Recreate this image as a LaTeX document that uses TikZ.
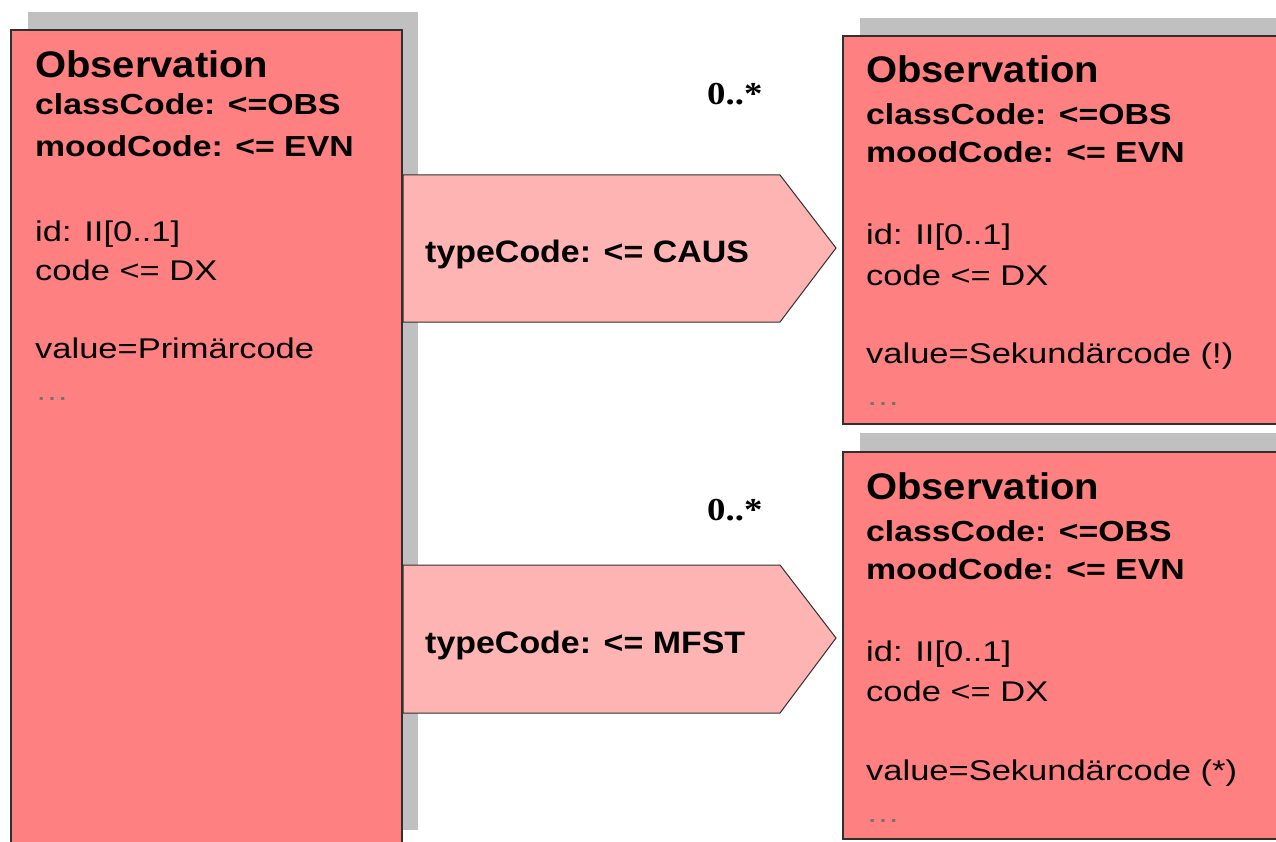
\documentclass[tikz,border=0pt]{standalone}
\usepackage{fontspec}
\setmainfont{Liberation Sans}
\newfontfamily\obsfont{Liberation Sans}[FakeStretch=1.08]
\newfontfamily\hdfont{Liberation Sans}[FakeStretch=1.165]
\newfontfamily\txfont{Liberation Sans}[FakeStretch=1.21]
\newfontfamily\tcfont{Liberation Sans}[FakeStretch=1.095]
\newfontfamily\mulfont{Liberation Serif}[FakeStretch=1.15]
\definecolor{boxred}{HTML}{FF8080}
\definecolor{arrowpink}{HTML}{FFB4B4}
\definecolor{shadowgray}{HTML}{C0C0C0}
\definecolor{edge}{HTML}{303030}
\tikzset{
  obsbox/.style={draw=edge, line width=1.4pt, fill=boxred, rectangle, outer sep=0pt, inner sep=0pt, anchor=north west},
  assoc/.style={draw=edge, line width=1pt, fill=arrowpink, line join=miter},
  title/.style={anchor=base west, inner sep=0pt, font=\obsfont\bfseries\fontsize{37}{40}\selectfont},
  head/.style={anchor=base west, inner sep=0pt, font=\hdfont\bfseries\fontsize{29}{32}\selectfont},
  attr/.style={anchor=base west, inner sep=0pt, font=\txfont\fontsize{28.5}{32}\selectfont},
  dots/.style={anchor=base west, inner sep=0pt, text=black!55, font=\txfont\fontsize{28}{32}\selectfont},
  tclabel/.style={anchor=base west, inner sep=0pt, font=\tcfont\bfseries\fontsize{31}{34}\selectfont},
  mult/.style={anchor=base west, inner sep=0pt, font=\mulfont\bfseries\fontsize{32}{34}\selectfont}
}
\begin{document}
\begin{tikzpicture}[x=1pt,y=-1pt]
\useasboundingbox (0,0) rectangle (1276,842);
\clip (0,0) rectangle (1276,842);
\fill[white] (0,0) rectangle (1276,842);
% shadows
\fill[shadowgray] (28,12) rectangle (418,830);
\fill[shadowgray] (860,18) rectangle (1300,410);
\fill[shadowgray] (860,433) rectangle (1300,821);
% boxes
\node[obsbox, minimum width=391pt, minimum height=830pt] (L) at (11,30) {};
\node[obsbox, minimum width=460pt, minimum height=388pt] (RT) at (843,36) {};
\node[obsbox, minimum width=460pt, minimum height=387pt] (RB) at (843,452) {};
% association arrows
\coordinate (a1s) at (403,175);
\coordinate (a1t) at (836,248);
\coordinate (a2s) at (403,565);
\coordinate (a2t) at (836,638);
\draw[assoc] (a1s) -- (780,175) -- (a1t) -- (780,322) -- (403,322) -- cycle;
\draw[assoc] (a2s) -- (780,565) -- (a2t) -- (780,713) -- (403,713) -- cycle;
\draw[draw=edge, line width=1.4pt] (402,175) -- (402,322) (402,565) -- (402,713);
\node[tclabel] (t1) at (425,262) {typeCode: <= CAUS};
\node[tclabel] (t2) at (425,653) {typeCode: <= MFST};
\node[mult] (m1) at (707,105) {0..*};
\node[mult] (m2) at (707,520) {0..*};
% left box text
\node[title] (L1) at (35,78) {Observation};
\node[head] (L2) at (35,115) {classCode: <=OBS};
\node[head] (L3) at (35,157) {moodCode: <= EVN};
\node[attr] (L4) at (35,242) {id: II[0..1]};
\node[attr] (L5) at (35,280) {code <= DX};
\node[attr] (L6) at (35,358) {value=Primärcode};
\node[dots] (L7) at (35,400) {…};
% right top text
\node[title] (R1) at (866,83) {Observation};
\node[head] (R2) at (866,125) {classCode: <=OBS};
\node[head] (R3) at (866,163) {moodCode: <= EVN};
\node[attr] (R4) at (866,245) {id: II[0..1]};
\node[attr] (R5) at (866,285) {code <= DX};
\node[attr] (R6) at (866,363) {value=Sekundärcode (!)};
\node[dots] (R7) at (866,405) {…};
% right bottom text
\node[title] (S1) at (866,499) {Observation};
\node[head] (S2) at (866,541) {classCode: <=OBS};
\node[head] (S3) at (866,579) {moodCode: <= EVN};
\node[attr] (S4) at (866,661) {id: II[0..1]};
\node[attr] (S5) at (866,701) {code <= DX};
\node[attr] (S6) at (866,780) {value=Sekundärcode (*)};
\node[dots] (S7) at (866,822) {…};
\end{tikzpicture}
\end{document}
